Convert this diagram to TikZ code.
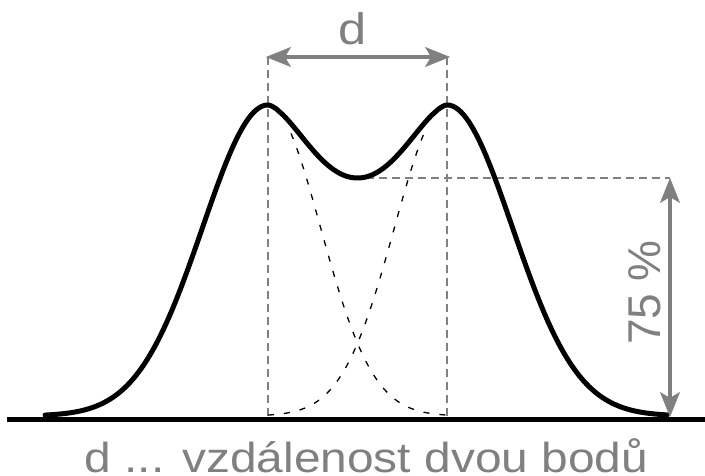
\documentclass[tikz,border=0pt]{standalone}
\usepackage{fontspec}
\setmainfont{Liberation Sans}
\usetikzlibrary{arrows.meta}
\definecolor{mygray}{RGB}{128,128,128}
\tikzset{
  curve/.style={line width=5pt, line join=round, line cap=round},
  baseln/.style={line width=5pt},
  guide/.style={mygray, line width=1.5pt, dash pattern=on 8pt off 5pt},
  comp/.style={black, line width=1.3pt, dash pattern=on 6pt off 10pt},
  dimtip/.tip={Stealth[length=25pt,width=20pt,inset=6pt,line width=0.5pt]},
  dimarrow/.style={mygray, line width=4.5pt, arrows={dimtip-dimtip}},
  lbl/.style={text=mygray, inner sep=0pt},
}
\begin{document}
\begin{tikzpicture}[x=1pt,y=-1pt]
\useasboundingbox (0,0) rectangle (705,476);
% named points
\coordinate (b0) at (7,419.5);
\coordinate (b1) at (705,419.5);
\coordinate (dip) at (353,178);
\coordinate (gLt) at (268,57);
\coordinate (gRt) at (447,57);
\coordinate (gLb) at (268,417);
\coordinate (gRb) at (447,417);
\coordinate (hEnd) at (670,178);
\coordinate (vTop) at (670,178);
\coordinate (vBot) at (670,417);
\coordinate (aL) at (266,57);
\coordinate (aR) at (450,57);
% guide lines
\draw[guide] (gLt) -- (gLb);
\draw[guide] (gRt) -- (gRb);
\draw[guide] (dip) -- (hEnd);
% component curves
\draw[comp] plot[domain=291:447, samples=90] (\x, {416-311*exp(-((\x-268)/74.25)^2)});
\draw[comp] plot[domain=268:424, samples=90] (\x, {416-311*exp(-((\x-447)/74.25)^2)});
% baseline
\draw[baseln] (b0) -- (b1);
% main curve
\draw[curve] plot[domain=45:268, samples=80] (\x,{416-311*exp(-((\x-268)/92.5)^2)})
  -- plot[domain=268.3:357.5, samples=50] (\x,{105+36.5*(1-cos(180*((\x-268)/89.5)^0.8))})
  -- plot[domain=357.5:446.7, samples=50] (\x,{105+36.5*(1-cos(180*((447-\x)/89.5)^0.8))})
  -- plot[domain=447:667, samples=80] (\x,{416-311*exp(-((\x-447)/92.5)^2)});
% dimension arrows
\draw[dimarrow] (aL) -- (aR);
\draw[dimarrow] (vTop) -- (vBot);
% labels
\node[lbl, anchor=base, xscale=1.15, font=\fontsize{44}{48}\selectfont] (dlabel) at (353,45) {d};
\node[lbl, anchor=base, rotate=90, font=\fontsize{46}{50}\selectfont] (pct) at (660,292.5) {75 \%};
\node[lbl, anchor=base, xscale=1.14, font=\fontsize{42}{46}\selectfont] (caption) at (366.5,472.5) {d ... vzdálenost dvou bodů};
\end{tikzpicture}
\end{document}
